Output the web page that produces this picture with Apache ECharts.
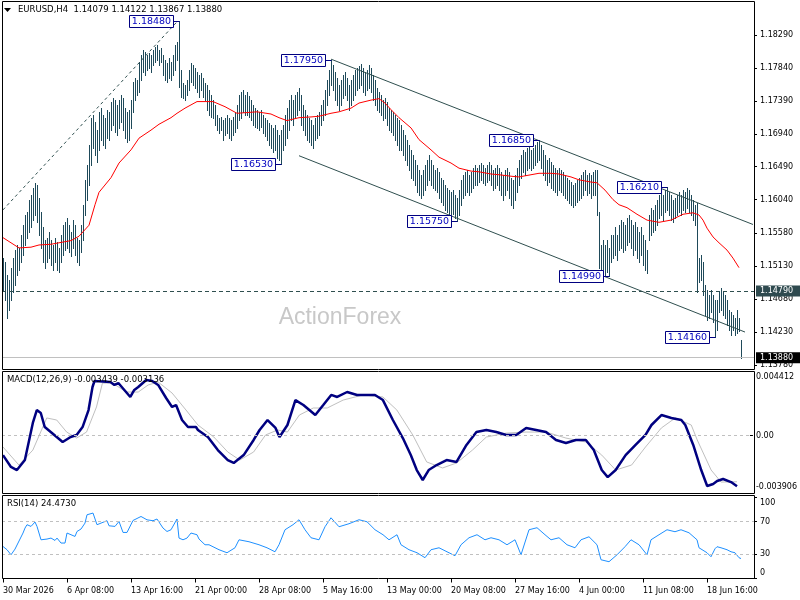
<!DOCTYPE html>
<html><head><meta charset="utf-8">
<script src="https://cdn.jsdelivr.net/npm/echarts@6/dist/echarts.min.js"></script>
<style>html,body{margin:0;padding:0;background:#fff}#c{width:800px;height:600px}</style>
</head><body><div id="c"></div>
<script>
// ---------- data ----------
const symbolTitle = 'EURUSD,H4';
const lastOHLC = [1.14079, 1.14122, 1.13867, 1.13880];
const timeLabels = ['30 Mar 2026','6 Apr 08:00','13 Apr 16:00','21 Apr 00:00','28 Apr 08:00','5 May 16:00','13 May 00:00','20 May 08:00','27 May 16:00','4 Jun 00:00','11 Jun 08:00','18 Jun 16:00'];
const barsPerLabel = 32;
const slotCount = 376;
const priceTicks = [1.1378,1.1423,1.1468,1.1513,1.1558,1.1604,1.1649,1.1694,1.1739,1.1784,1.1829];
const macdTicks = [-0.003906, 0, 0.004412];
const rsiTicks = [0, 30, 70, 100];
const rsiLevels = [30, 70];
const macdLast = [-0.003439, -0.003136];
const rsiLast = 24.4730;
const resistanceLevel = 1.1479;
const lastPrice = 1.1388;

const highs = [
1.1524,1.1519,1.1501,1.1494,1.1511,1.1524,1.1535,1.1542,1.1538,1.1556,
1.1569,1.1583,1.1587,1.1603,1.1610,1.1620,1.1627,1.1624,1.1606,1.1587,
1.1566,1.1549,1.1552,1.1560,1.1549,1.1542,1.1552,1.1546,1.1538,1.1556,
1.1569,1.1573,1.1579,1.1569,1.1560,1.1576,1.1569,1.1552,1.1549,1.1569,
1.1597,1.1631,1.1651,1.1679,1.1716,1.1720,1.1710,1.1699,1.1724,1.1729,
1.1720,1.1716,1.1727,1.1724,1.1737,1.1743,1.1740,1.1733,1.1740,1.1747,
1.1743,1.1729,1.1724,1.1727,1.1740,1.1765,1.1770,1.1768,1.1792,1.1802,
1.1809,1.1806,1.1802,1.1805,1.1802,1.1809,1.1813,1.1815,1.1809,1.1811,
1.1802,1.1795,1.1791,1.1798,1.1792,1.1802,1.1815,1.1819,1.1848,1.1781,
1.1764,1.1761,1.1768,1.1781,1.1791,1.1788,1.1784,1.1779,1.1774,1.1777,
1.1770,1.1764,1.1761,1.1754,1.1747,1.1740,1.1733,1.1720,1.1716,1.1717,
1.1713,1.1716,1.1720,1.1716,1.1713,1.1717,1.1724,1.1733,1.1747,1.1751,
1.1754,1.1747,1.1751,1.1746,1.1740,1.1733,1.1729,1.1727,1.1724,1.1727,
1.1720,1.1716,1.1713,1.1709,1.1706,1.1702,1.1706,1.1699,1.1692,1.1699,
1.1706,1.1720,1.1729,1.1740,1.1747,1.1740,1.1747,1.1751,1.1757,1.1747,
1.1733,1.1727,1.1720,1.1716,1.1713,1.1706,1.1716,1.1720,1.1724,1.1733,
1.1740,1.1754,1.1768,1.1781,1.1795,1.1788,1.1779,1.1770,1.1761,1.1768,
1.1774,1.1779,1.1770,1.1761,1.1768,1.1774,1.1781,1.1784,1.1787,1.1790,
1.1784,1.1779,1.1781,1.1788,1.1784,1.1774,1.1768,1.1757,1.1751,1.1747,
1.1740,1.1743,1.1737,1.1729,1.1727,1.1724,1.1720,1.1716,1.1713,1.1706,
1.1699,1.1692,1.1686,1.1679,1.1672,1.1665,1.1658,1.1651,1.1644,1.1638,
1.1644,1.1651,1.1658,1.1665,1.1658,1.1651,1.1644,1.1647,1.1642,1.1634,
1.1631,1.1624,1.1620,1.1617,1.1614,1.1617,1.1610,1.1606,1.1617,1.1631,
1.1638,1.1642,1.1644,1.1638,1.1642,1.1647,1.1651,1.1647,1.1651,1.1654,
1.1651,1.1647,1.1651,1.1655,1.1651,1.1644,1.1647,1.1651,1.1647,1.1642,
1.1638,1.1644,1.1647,1.1642,1.1634,1.1631,1.1638,1.1647,1.1658,1.1665,
1.1672,1.1669,1.1675,1.1679,1.1672,1.1675,1.1679,1.1683,1.1685,1.1679,
1.1672,1.1665,1.1658,1.1661,1.1655,1.1651,1.1647,1.1644,1.1647,1.1644,
1.1642,1.1638,1.1634,1.1631,1.1628,1.1624,1.1627,1.1631,1.1634,1.1638,
1.1642,1.1644,1.1638,1.1640,1.1638,1.1642,1.1644,1.1644,1.1587,1.1542,
1.1549,1.1542,1.1549,1.1538,1.1556,1.1556,1.1566,1.1556,1.1569,1.1576,
1.1573,1.1569,1.1579,1.1583,1.1576,1.1569,1.1573,1.1566,1.1560,1.1566,
1.1556,1.1549,1.1535,1.1583,1.1593,1.1590,1.1597,1.1603,1.1610,1.1614,
1.1610,1.1617,1.1621,1.1614,1.1610,1.1603,1.1606,1.1610,1.1614,1.1610,
1.1617,1.1614,1.1620,1.1617,1.1610,1.1603,1.1597,1.1599,1.1524,1.1528,
1.1519,1.1487,1.1481,1.1474,1.1481,1.1474,1.1467,1.1467,1.1478,1.1483,
1.1478,1.1474,1.1467,1.1453,1.1450,1.1446,1.1442,1.1453,1.1442,1.1412
];
const lows = [
1.1481,1.1467,1.1442,1.1453,1.1467,1.1478,1.1487,1.1501,1.1508,1.1519,
1.1528,1.1542,1.1552,1.1560,1.1566,1.1576,1.1583,1.1573,1.1556,1.1538,
1.1519,1.1511,1.1519,1.1524,1.1515,1.1508,1.1519,1.1508,1.1505,1.1519,
1.1528,1.1535,1.1538,1.1532,1.1527,1.1538,1.1528,1.1519,1.1515,1.1532,
1.1549,1.1583,1.1603,1.1624,1.1651,1.1675,1.1665,1.1655,1.1672,1.1686,
1.1679,1.1675,1.1688,1.1686,1.1699,1.1706,1.1697,1.1692,1.1702,1.1710,
1.1699,1.1688,1.1683,1.1686,1.1702,1.1724,1.1740,1.1747,1.1751,1.1768,
1.1779,1.1774,1.1781,1.1784,1.1779,1.1788,1.1792,1.1795,1.1788,1.1792,
1.1774,1.1768,1.1765,1.1770,1.1768,1.1774,1.1781,1.1795,1.1758,1.1744,
1.1743,1.1740,1.1747,1.1754,1.1765,1.1761,1.1757,1.1751,1.1744,1.1754,
1.1744,1.1740,1.1727,1.1720,1.1717,1.1716,1.1706,1.1699,1.1695,1.1699,
1.1686,1.1692,1.1695,1.1688,1.1686,1.1692,1.1697,1.1702,1.1713,1.1716,
1.1724,1.1720,1.1720,1.1717,1.1713,1.1706,1.1703,1.1702,1.1699,1.1703,
1.1695,1.1691,1.1686,1.1679,1.1675,1.1669,1.1672,1.1661,1.1658,1.1653,
1.1672,1.1679,1.1688,1.1699,1.1713,1.1706,1.1716,1.1720,1.1727,1.1706,
1.1699,1.1692,1.1686,1.1683,1.1679,1.1675,1.1686,1.1688,1.1692,1.1706,
1.1713,1.1720,1.1733,1.1747,1.1761,1.1754,1.1740,1.1733,1.1727,1.1733,
1.1743,1.1747,1.1740,1.1727,1.1733,1.1740,1.1747,1.1754,1.1757,1.1761,
1.1751,1.1747,1.1754,1.1757,1.1751,1.1740,1.1733,1.1727,1.1724,1.1720,
1.1713,1.1716,1.1706,1.1699,1.1697,1.1692,1.1686,1.1679,1.1672,1.1672,
1.1665,1.1658,1.1651,1.1644,1.1633,1.1631,1.1624,1.1614,1.1610,1.1606,
1.1610,1.1617,1.1624,1.1631,1.1624,1.1620,1.1617,1.1614,1.1606,1.1601,
1.1597,1.1590,1.1587,1.1583,1.1581,1.1585,1.1579,1.1575,1.1583,1.1597,
1.1606,1.1610,1.1614,1.1610,1.1614,1.1620,1.1624,1.1624,1.1628,1.1631,
1.1627,1.1624,1.1628,1.1631,1.1624,1.1617,1.1620,1.1624,1.1617,1.1610,
1.1603,1.1610,1.1617,1.1606,1.1597,1.1593,1.1603,1.1614,1.1624,1.1634,
1.1642,1.1638,1.1644,1.1647,1.1644,1.1647,1.1651,1.1655,1.1658,1.1647,
1.1638,1.1631,1.1624,1.1628,1.1620,1.1617,1.1614,1.1610,1.1617,1.1614,
1.1610,1.1606,1.1603,1.1599,1.1597,1.1594,1.1597,1.1601,1.1603,1.1606,
1.1610,1.1617,1.1610,1.1613,1.1606,1.1610,1.1610,1.1583,1.1511,1.1505,
1.1508,1.1501,1.1505,1.1499,1.1519,1.1524,1.1528,1.1522,1.1535,1.1538,
1.1532,1.1535,1.1542,1.1546,1.1538,1.1528,1.1535,1.1524,1.1519,1.1528,
1.1515,1.1508,1.1504,1.1549,1.1556,1.1560,1.1563,1.1569,1.1579,1.1583,
1.1576,1.1587,1.1590,1.1583,1.1576,1.1573,1.1579,1.1583,1.1587,1.1583,
1.1590,1.1587,1.1593,1.1587,1.1583,1.1576,1.1569,1.1478,1.1491,1.1494,
1.1474,1.1446,1.1440,1.1442,1.1450,1.1437,1.1416,1.1426,1.1450,1.1453,
1.1446,1.1442,1.1433,1.1426,1.1419,1.1426,1.1419,1.1422,1.1424,1.1387
];
// red moving average, read as [bar, price]
const maPoints = [[0,1.1552],[4,1.1545],[8,1.1538],[14,1.1539],[18,1.1542],[24,1.1543],[28,1.1545],[34,1.1548],[38,1.1554],[43,1.1569],[46,1.1597],[48,1.1614],[54,1.1634],[58,1.1654],[64,1.1672],[68,1.1688],[74,1.1699],[78,1.1707],[84,1.1716],[87,1.1722],[91,1.1729],[97,1.1738],[105,1.1738],[111,1.1731],[117,1.1722],[127,1.1724],[134,1.1721],[138,1.1716],[142,1.1712],[148,1.1716],[154,1.1717],[158,1.1718],[164,1.1722],[168,1.1724],[174,1.1729],[178,1.1736],[184,1.1740],[188,1.1742],[191,1.1736],[194,1.1727],[198,1.1716],[204,1.1702],[208,1.1686],[214,1.1672],[218,1.1662],[224,1.1654],[228,1.1647],[234,1.1643],[238,1.1642],[244,1.1639],[248,1.1638],[254,1.1636],[258,1.1635],[264,1.1638],[268,1.1640],[274,1.1640],[278,1.1639],[284,1.1635],[288,1.1631],[294,1.1628],[297,1.1627],[301,1.1617],[305,1.1604],[308,1.1597],[312,1.1593],[317,1.1584],[322,1.1576],[328,1.1573],[334,1.1576],[340,1.1584],[345,1.1586],[348,1.1583],[350,1.1576],[352,1.1565],[355,1.1553],[358,1.1545],[362,1.1535],[365,1.1524],[368,1.1511]];
const macdMain = [[0,-0.00132],[4,-0.00213],[7,-0.00234],[11,-0.00166],[15,0.00087],[17,0.00175],[19,0.00155],[21,0.00059],[24,0.00025],[27,-0.00009],[30,-0.00043],[34,-0.00009],[37,0.00005],[40,0.00059],[43,0.00175],[45,0.00332],[46,0.00373],[54,0.00366],[56,0.00346],[58,0.00359],[61,0.00312],[64,0.00264],[66,0.00312],[68,0.00332],[72,0.00380],[75,0.00373],[78,0.00346],[82,0.00257],[85,0.00196],[87,0.00209],[90,0.00107],[93,0.00059],[97,0.00059],[98,0.00039],[103,-0.00009],[108,-0.00098],[113,-0.00166],[116,-0.00186],[121,-0.00132],[126,-0.00029],[129,0.00039],[133,0.00107],[137,0.00053],[139,-0.00009],[143,0.00073],[147,0.00243],[151,0.00209],[154,0.00175],[157,0.00141],[161,0.00209],[165,0.00278],[168,0.00264],[173,0.00298],[178,0.00278],[183,0.00278],[187,0.00278],[191,0.00243],[196,0.00107],[201,-0.00016],[205,-0.00132],[208,-0.00234],[211,-0.00302],[214,-0.00234],[218,-0.00200],[223,-0.00166],[228,-0.00179],[233,-0.00063],[238,0.00025],[243,0.00039],[248,0.00025],[253,0.00005],[258,0.00005],[263,0.00053],[268,0.00039],[273,0.00025],[278,-0.00029],[283,-0.00050],[288,-0.00029],[293,-0.00029],[297,-0.00098],[301,-0.00234],[304,-0.00282],[308,-0.00234],[313,-0.00132],[318,-0.00063],[323,0.00005],[326,0.00073],[331,0.00141],[336,0.00121],[341,0.00107],[343,0.00073],[347,-0.00063],[351,-0.00234],[354,-0.00343],[357,-0.00329],[359,-0.00309],[362,-0.00295],[366,-0.00316],[369,-0.00344]];
const macdSignal = [[0,-0.00077],[8,-0.00200],[15,-0.00098],[22,0.00121],[27,0.00107],[32,0.00025],[37,-0.00016],[42,0.00025],[47,0.00196],[50,0.00359],[55,0.00359],[62,0.00298],[68,0.00298],[73,0.00346],[78,0.00366],[85,0.00291],[92,0.00175],[98,0.00073],[106,-0.00009],[113,-0.00111],[119,-0.00166],[126,-0.00111],[132,0.00005],[138,0.00039],[143,0.00025],[149,0.00141],[156,0.00189],[163,0.00189],[171,0.00243],[181,0.00278],[191,0.00264],[198,0.00175],[206,0.00005],[213,-0.00179],[221,-0.00220],[228,-0.00186],[236,-0.00098],[243,-0.00009],[253,0.00018],[263,0.00025],[273,0.00025],[283,-0.00016],[293,-0.00043],[301,-0.00132],[308,-0.00234],[316,-0.00200],[323,-0.00077],[331,0.00053],[338,0.00121],[346,0.00073],[349,-0.00029],[356,-0.00234],[361,-0.00316],[369,-0.00314]];
const rsiPoints = [[0,39.3],[2,35.3],[4,29.1],[6,36.1],[7,34],[10,55.8],[11,61.9],[12,66],[14,63.9],[16,69.3],[17,63.9],[19,47.5],[22,48.4],[24,49.6],[26,46.7],[27,49.6],[29,43.5],[31,43.5],[32,55.8],[36,51.6],[37,57.7],[39,60.7],[41,68],[42,78.2],[45,80.3],[47,66],[48,63.9],[52,70.9],[53,64.7],[56,63.9],[58,70],[60,56.5],[62,56.5],[65,71.2],[69,76.1],[72,72],[75,70.9],[77,73],[80,61.9],[82,57.7],[84,59.8],[87,73],[88,49.6],[90,47.5],[92,49.6],[94,55.8],[97,53.7],[98,48.4],[101,41.4],[103,41.4],[108,35.3],[112,31.6],[116,37.7],[118,47.5],[123,45.1],[128,41.4],[132,37.7],[136,32.8],[138,41.4],[141,59.8],[145,66],[148,72.1],[151,59.8],[154,50],[158,47.5],[161,63.5],[164,74.5],[168,63.5],[173,67.2],[178,72.1],[182,69.6],[186,59.8],[190,53.7],[193,47.5],[197,53.7],[199,41.4],[203,35.3],[207,31.6],[211,25.5],[214,35.3],[218,37.7],[222,32.8],[226,27.9],[229,41.4],[233,50],[237,53.7],[241,47.5],[244,50],[248,47.5],[252,41.4],[256,47.5],[259,29.1],[263,59.8],[267,62.3],[271,53.7],[274,47.5],[278,50],[282,41.4],[286,37.7],[289,47.5],[293,51.2],[297,41.4],[299,23],[303,20.6],[307,29.1],[311,39],[314,47.5],[318,41.4],[322,29.1],[324,47.5],[328,53.7],[332,59.8],[336,57.4],[339,59.8],[343,56.1],[347,47.5],[348,37.7],[352,31.6],[354,26.7],[356,36.5],[357,39],[359,37.7],[362,35.3],[364,32.8],[366,31.6],[368,25.5],[369,24.5]];
// swing labels [bar, price]
const swingLabels = [[88,1.1848],[164,1.1795],[139,1.1653],[227,1.1575],[268,1.1685],[303,1.1499],[332,1.1621],[356,1.1416]];
const channelUpper = [[164,1.1796],[375,1.1570]];
const channelLower = [[148,1.1664],[371,1.1423]];
const trendDashed = [[0,1.1590],[87,1.1847]];

// ---------- chart ----------
const slots = Array.from({length: slotCount}, (_, i) => i);
const FONT = '"DejaVu Sans", Verdana, sans-serif';
const BAR = '#1f4a5a';
const chart = echarts.init(document.getElementById('c'), null, {renderer: 'canvas'});
const labelEvery = idx => idx % barsPerLabel === 0;

const xAxes = [0, 1, 2].map(g => ({
  type: 'category', gridIndex: g, data: slots, boundaryGap: true,
  axisLine: {show: false}, splitLine: {show: false},
  axisTick: {show: g === 2, interval: labelEvery, alignWithLabel: true, length: 4, lineStyle: {color: '#000'}},
  axisLabel: {show: g === 2, interval: labelEvery, align: 'left', margin: 8, fontSize: 8, fontFamily: FONT, color: '#000',
    formatter: (v, idx) => timeLabels[Math.round(idx / barsPerLabel)] || ''}
}));
const yCommon = {position: 'right', axisLine: {show: false}, splitLine: {show: false}};
const yAxes = [
  Object.assign({type: 'value', gridIndex: 0, min: 1.13725, max: 1.18741,
    axisTick: {show: true, customValues: priceTicks, length: 3, lineStyle: {color: '#000'}},
    axisLabel: {customValues: priceTicks, margin: 6, fontSize: 8, fontFamily: FONT, color: '#000', formatter: v => v.toFixed(5)}}, yCommon),
  Object.assign({type: 'value', gridIndex: 1, min: macdTicks[0], max: macdTicks[2],
    axisTick: {show: true, customValues: macdTicks, length: 3, lineStyle: {color: '#000'}},
    axisLabel: {customValues: macdTicks, margin: 6, fontSize: 8, lineHeight: 12, fontFamily: FONT, color: '#000',
      formatter: v => v === macdTicks[2] ? '\n' + v.toFixed(6) : (v === macdTicks[0] ? v.toFixed(6) + '\n' : '0.00')}}, yCommon),
  Object.assign({type: 'value', gridIndex: 2, min: 0, max: 100,
    axisTick: {show: true, customValues: rsiTicks, length: 3, lineStyle: {color: '#000'}},
    axisLabel: {customValues: rsiTicks, margin: 6, fontSize: 8, lineHeight: 12, fontFamily: FONT, color: '#000',
      formatter: v => v === 100 ? '\n100' : (v === 0 ? '0\n' : String(v))}}, yCommon)
];

const barData = highs.map((h, i) => [i, h, lows[i]]);

const option = {
  animation: false,
  backgroundColor: '#fff',
  grid: [
    {left: 2, width: 752, top: 2, height: 367},
    {left: 2, width: 752, top: 371, height: 122},
    {left: 2, width: 752, top: 497, height: 81.5}
  ],
  xAxis: xAxes,
  yAxis: yAxes,
  series: [
    {type: 'custom', name: 'bars', xAxisIndex: 0, yAxisIndex: 0, data: barData, encode: {x: 0, y: [1, 2]}, z: 3,
      renderItem: (params, api) => {
        const i = api.value(0);
        const a = api.coord([i, api.value(1)]);
        const b = api.coord([i, api.value(2)]);
        const x = Math.round(a[0]) + 0.5;
        return {type: 'line', shape: {x1: x, y1: Math.round(a[1]), x2: x, y2: Math.round(b[1]) + 1}, style: {stroke: BAR, lineWidth: 1}};
      }},
    {type: 'line', name: 'MA', xAxisIndex: 0, yAxisIndex: 0, data: maPoints, symbol: 'none', z: 4,
      lineStyle: {color: '#ff0000', width: 1},
      markLine: {silent: true, symbol: 'none', animation: false, precision: 6,
        data: [
          {yAxis: resistanceLevel, lineStyle: {color: '#2f4f4f', width: 1, type: [4, 3]},
            label: {show: true, position: 'end', distance: 2, formatter: resistanceLevel.toFixed(5), color: '#fff', backgroundColor: '#2f4a4f', padding: [2, 8, 1, 4], fontSize: 8, fontFamily: FONT}},
          {yAxis: lastPrice, lineStyle: {color: '#c0c0c0', width: 1, type: 'solid'},
            label: {show: true, position: 'end', distance: 2, formatter: lastPrice.toFixed(5), color: '#fff', backgroundColor: '#000', padding: [2, 8, 1, 4], fontSize: 8, fontFamily: FONT}}
        ]}},
    {type: 'line', name: 'chanU', xAxisIndex: 0, yAxisIndex: 0, data: channelUpper, symbol: 'none', z: 4,
      lineStyle: {color: '#2f4f4f', width: 1}},
    {type: 'line', name: 'chanL', xAxisIndex: 0, yAxisIndex: 0, data: channelLower, symbol: 'none', z: 4,
      lineStyle: {color: '#2f4f4f', width: 1}},
    {type: 'line', name: 'trend', xAxisIndex: 0, yAxisIndex: 0, data: trendDashed, symbol: 'none', z: 4,
      lineStyle: {color: '#2f4f4f', width: 1, type: [3, 3]}},
    {type: 'custom', name: 'swings', xAxisIndex: 0, yAxisIndex: 0, data: swingLabels, z: 6,
      renderItem: (params, api) => {
        const p = api.coord([api.value(0), api.value(1)]);
        const w = 44, h = 13, gap = 7;
        const ax = Math.round(p[0]) + 0.5, ay = Math.round(p[1]) + 0.5;
        const bx = Math.round(ax - gap - w) + 0.5;
        return {type: 'group', children: [
          {type: 'line', shape: {x1: bx + w, y1: ay, x2: ax, y2: ay}, style: {stroke: '#000080', lineWidth: 1}},
          {type: 'rect', shape: {x: bx, y: ay - 6, width: w, height: h - 1}, style: {fill: '#fff', stroke: '#000080', lineWidth: 1}},
          {type: 'text', x: bx + w / 2, y: ay + 0.5, style: {text: api.value(1).toFixed(5), fill: '#0000c0', font: '9.5px ' + FONT, align: 'center', verticalAlign: 'middle'}}
        ]};
      }},
    {type: 'line', name: 'signal', xAxisIndex: 1, yAxisIndex: 1, data: macdSignal, symbol: 'none', z: 3,
      lineStyle: {color: '#c0c0c0', width: 1},
      markLine: {silent: true, symbol: 'none', precision: 6, label: {show: false}, lineStyle: {color: '#c0c0c0', width: 1, type: [3, 3]}, data: [{yAxis: 0}]}},
    {type: 'line', name: 'macd', xAxisIndex: 1, yAxisIndex: 1, data: macdMain, symbol: 'none', z: 4,
      lineStyle: {color: '#000080', width: 2.5}},
    {type: 'line', name: 'rsi', xAxisIndex: 2, yAxisIndex: 2, data: rsiPoints, symbol: 'none', z: 4,
      lineStyle: {color: '#1e90ff', width: 1},
      markLine: {silent: true, symbol: 'none', label: {show: false}, lineStyle: {color: '#c0c0c0', width: 1, type: [3, 3]}, data: rsiLevels.map(v => ({yAxis: v}))}}
  ],
  graphic: [
    {type: 'text', z: 0, x: 340, y: 318, style: {text: 'ActionForex', fill: '#c8c8c8', font: '23px "Liberation Sans", Arial, sans-serif', align: 'center', verticalAlign: 'middle'}},
    {type: 'polygon', z: 100, shape: {points: [[4, 8], [11, 8], [7.5, 12]]}, style: {fill: '#000'}},
    {type: 'text', z: 100, x: 18, y: 10, style: {text: symbolTitle + '  ' + lastOHLC.map(v => v.toFixed(5)).join(' '), fill: '#000', font: '8.5px ' + FONT, verticalAlign: 'middle'}},
    {type: 'text', z: 100, x: 7, y: 380, style: {text: 'MACD(12,26,9) ' + macdLast.map(v => v.toFixed(6)).join(' '), fill: '#000', font: '8.5px ' + FONT, verticalAlign: 'middle'}},
    {type: 'text', z: 100, x: 7, y: 504, style: {text: 'RSI(14) ' + rsiLast.toFixed(4), fill: '#000', font: '8.5px ' + FONT, verticalAlign: 'middle'}},
    {type: 'rect', z: 100, shape: {x: 2.5, y: 1.5, width: 752, height: 368}, style: {fill: 'none', stroke: '#000', lineWidth: 1}},
    {type: 'rect', z: 100, shape: {x: 2.5, y: 371.5, width: 752, height: 122}, style: {fill: 'none', stroke: '#000', lineWidth: 1}},
    {type: 'rect', z: 100, shape: {x: 2.5, y: 495.5, width: 752, height: 83}, style: {fill: 'none', stroke: '#000', lineWidth: 1}}
  ]
};
chart.setOption(option);
</script>
</body></html>
